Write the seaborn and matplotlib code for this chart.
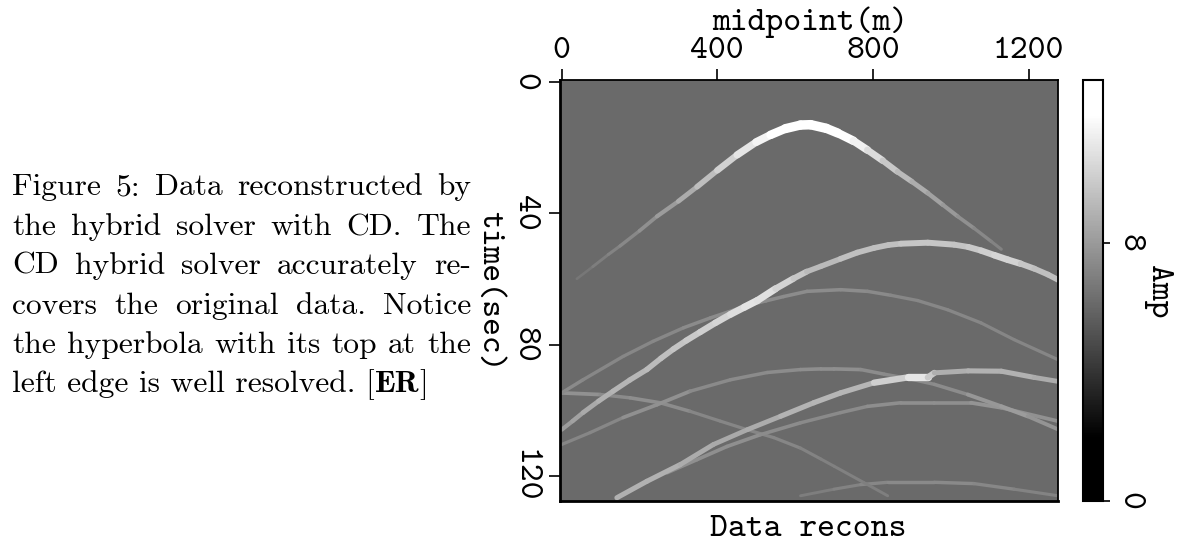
import numpy as np
import pandas as pd
import matplotlib
matplotlib.use("Agg")
import matplotlib.pyplot as plt
import seaborn as sns
from matplotlib.colors import LinearSegmentedColormap

# arrival picks: midpoint (m), time (sec), amplitude
a_mid = [39, 80, 120, 150, 200, 245, 300, 348, 400, 451, 500, 537, 575, 614, 640, 680, 709, 750, 786, 825, 863, 900, 941, 980, 1018, 1060, 1104, 1130]
a_time = [60, 56.3, 52.6, 50, 45.4, 41, 36.4, 32, 27, 22.3, 18.4, 16.2, 14.3, 13.2, 13.1, 14.2, 15.6, 18, 20.8, 24, 27.4, 30.4, 33.9, 37.5, 41, 44.6, 48.6, 51]
a_amp = [6.5, 6.8, 7, 7.2, 7.5, 7.8, 8.4, 9, 9.8, 10.6, 11.3, 11.8, 12.5, 13, 13, 13, 12.5, 11.8, 11, 10.2, 9.5, 9, 8.5, 8.2, 7.8, 7.5, 7.2, 7]

b_mid = [0, 28, 55, 95, 132, 175, 219, 255, 287, 320, 356, 395, 434, 470, 503, 550, 596, 630, 666, 717, 760, 803, 840, 872, 941, 1009, 1045, 1078, 1112, 1147, 1180, 1215, 1250, 1276]
b_time = [105.9, 103.3, 100.7, 97.2, 94.2, 90.8, 87.6, 84.2, 81.4, 78.8, 76.2, 73.4, 70.8, 68.6, 66.6, 63, 59.9, 57.8, 56.2, 53.9, 52, 50.6, 49.7, 49.3, 49, 49.6, 50.3, 51.4, 52.8, 54.2, 55.4, 56.9, 58.7, 60.3]
b_amp = [8, 8.2, 8.5, 8.8, 9, 9.1, 9.2, 9.4, 9.5, 9.8, 10, 10.2, 10.5, 10.8, 11, 10.5, 10, 9.5, 9, 9.5, 9.5, 9.5, 9.5, 9.5, 10, 9.5, 9.8, 10, 10.2, 10.5, 10, 9.5, 9.5, 9.5]

c_mid = [0, 55, 158, 235, 313, 382, 430, 480, 525, 570, 631, 717, 786, 846, 915, 992, 1078, 1163, 1276]
c_time = [94.7, 90.7, 83.6, 79, 74.9, 71.9, 70, 68, 66.7, 65.4, 63.8, 63.3, 63.8, 65, 66.6, 69.4, 73.4, 78.5, 84.6]
c_amp = [7.5, 7.3, 7.3, 7.3, 7.4, 7.5, 7.5, 7.5, 7.5, 7.5, 7.5, 7.5, 7.5, 7.3, 7.3, 7.3, 7.2, 7.2, 7.2]

d_mid = [0, 73, 158, 245, 330, 434, 528, 614, 666, 700, 769, 829, 890, 958, 1044, 1130, 1198, 1276]
d_time = [110.4, 106.8, 102.2, 98.3, 94.2, 90.7, 88.5, 87.6, 87.4, 87.4, 87.6, 89, 90.3, 92.1, 95.2, 98.8, 101.8, 105.8]
d_amp = [7.2, 7.2, 7.3, 8, 7.4, 7.4, 7.5, 7.5, 7.6, 7.6, 7.6, 7.4, 7.4, 7.4, 7.6, 8.2, 8, 7.6]

e_mid = [142, 219, 305, 390, 477, 563, 648, 717, 803, 889, 941, 958, 1045, 1130, 1215, 1276]
e_time = [126.6, 121.6, 116.5, 110.4, 105.9, 101.8, 97.7, 94.7, 91.6, 90, 90, 88.6, 88, 88.1, 90, 91.2]
e_amp = [8.8, 9, 8.8, 8.6, 8.6, 8.8, 9.2, 9, 9.2, 11, 11, 8.8, 8.9, 9, 8.8, 8.6]

f_mid = [271, 348, 425, 511, 614, 717, 786, 872, 958, 1052, 1130, 1276]
f_time = [119, 115, 111, 107.4, 103.8, 100.7, 98.8, 97.7, 97.7, 97.7, 99.2, 103.3]
f_amp = [7.6, 7.6, 7.6, 7.6, 7.4, 7.4, 7.5, 7.6, 7.6, 7.6, 8, 7.4]

g_mid = [0, 99, 176, 253, 330, 408, 477, 545, 614, 666, 700, 777, 838]
g_time = [94.7, 95.2, 96.2, 97.7, 100.3, 103.3, 105.9, 108.3, 111.5, 114.8, 117, 122, 126]
g_amp = [7.8, 7.6, 7.3, 7.8, 7.2, 7.2, 7.2, 7.2, 7.2, 7, 7, 7, 6.9]

h_mid = [614, 700, 769, 838, 958, 1060, 1163, 1276]
h_time = [126, 124, 122.6, 121.9, 121.9, 122.3, 124, 126]
h_amp = [6.8, 7, 7.2, 7.4, 7.4, 7.4, 7.2, 7]

background_amp = 6.15
n_mid = 128
n_time = 128

mid_ticks = [0, 400, 800, 1200]
time_ticks = [0, 40, 80, 120]
amp_ticks = [0, 8]
amp_max = 13.07

caption = [
    "Figure 5:  Data reconstructed by",
    "the hybrid solver with CD. The",
    "CD hybrid solver accurately re-",
    "covers the original data.  Notice",
    "the hyperbola with its top at the",
]

sns.set_theme(style="white")
plt.rcParams["axes.unicode_minus"] = False
MONO = "cmtt10"
LABEL_SIZE = 24.5
TEXT_SIZE = 22.7
fig = plt.figure(figsize=(11.82, 5.48), dpi=100)
W, H = 1182.0, 548.0


def box(x0, y0, x1, y1):
    return [x0 / W, 1 - y1 / H, (x1 - x0) / W, (y1 - y0) / H]


ax = fig.add_axes(box(559.7, 80, 1057.7, 500.7))
cax = fig.add_axes(box(1083, 80, 1103, 500.7))

# black up to about amp 2, white from about amp 12
cmap = LinearSegmentedColormap.from_list(
    "sep_gray", [(0, "black"), (1.96 / amp_max, "black"), (12.0 / amp_max, "white"), (1, "white")]
)

section = pd.DataFrame(np.full((n_time, n_mid), background_amp))
sns.heatmap(section, ax=ax, cbar_ax=cax, cmap=cmap, vmin=0, vmax=amp_max,
            xticklabels=False, yticklabels=False)

events = [
    (h_mid, h_time, h_amp),
    (g_mid, g_time, g_amp),
    (f_mid, f_time, f_amp),
    (d_mid, d_time, d_amp),
    (c_mid, c_time, c_amp),
    (e_mid, e_time, e_amp),
    (a_mid, a_time, a_amp),
    (b_mid, b_time, b_amp),
]

# each stretch between two picks is one short line, brighter means wider
for mids, times, amps in events:
    x = np.array(mids) / 10 + 0.5
    y = np.array(times) + 0.5
    for i in range(len(x) - 1):
        amp = (amps[i] + amps[i + 1]) / 2
        width = 1.5 + 0.78 * (amp - background_amp)
        sns.lineplot(x=x[i:i + 2], y=y[i:i + 2], ax=ax, color=cmap(amp / amp_max), linewidth=width,
                     estimator=None, sort=False, solid_capstyle="round")

ax.set_xlim(0, n_mid)
ax.set_ylim(n_time, 0)

ax.xaxis.tick_top()
ax.set_xticks([m / 10 + 0.5 for m in mid_ticks])
ax.set_xticklabels(mid_ticks, fontfamily=MONO, fontsize=LABEL_SIZE)
ax.set_yticks([t + 0.5 for t in time_ticks])
ax.set_yticklabels(time_ticks, fontfamily=MONO, fontsize=LABEL_SIZE, rotation=270, va="center")
ax.tick_params(axis="both", length=8, width=1.2, color="black", pad=2, left=True, top=True,
               bottom=False, labelcolor="black")
ax.tick_params(axis="y", pad=7)
for side, spine in ax.spines.items():
    spine.set_visible(True)
    spine.set_color("black")
    spine.set_linewidth(2.0 if side in ("left", "bottom") else 1.3)

colorbar = ax.collections[0].colorbar
colorbar.set_ticks(amp_ticks)
colorbar.set_ticklabels(amp_ticks, fontfamily=MONO, fontsize=LABEL_SIZE, rotation=270, va="center")
colorbar.ax.tick_params(length=5, width=1.2, color="black", pad=3, right=True, labelcolor="black")
colorbar.outline.set_visible(True)
colorbar.outline.set_edgecolor("black")
colorbar.outline.set_linewidth(1.5)

fig.text(810 / W, 1 - 22 / H, "midpoint(m)", fontfamily=MONO, fontsize=LABEL_SIZE, ha="center", va="center", color="black")
fig.text(808 / W, 1 - 529 / H, "Data recons", fontfamily=MONO, fontsize=LABEL_SIZE, ha="center", va="center", color="black")
fig.text(489 / W, 1 - 291 / H, "time(sec)", fontfamily=MONO, fontsize=LABEL_SIZE, rotation=270, ha="center", va="center", color="black")
fig.text(1157 / W, 1 - 292 / H, "Amp", fontfamily=MONO, fontsize=LABEL_SIZE, rotation=270, ha="center", va="center", color="black")

# caption: justified lines, so each word gets its own position
fig.canvas.draw()
renderer = fig.canvas.get_renderer()
left, right = 12.0, 471.0
baselines = [195, 235, 274, 314, 353]
for line, base in zip(caption, baselines):
    words = [w for w in line.split(" ") if w]
    items = [fig.text(0, 1 - base / H, w, fontfamily="cmr10", fontsize=TEXT_SIZE, color="black", va="baseline") for w in words]
    widths = [t.get_window_extent(renderer).width for t in items]
    gap = (right - left - sum(widths)) / (len(words) - 1)
    pos = left
    for t, w in zip(items, widths):
        t.set_x(pos / W)
        pos += w + gap

last = fig.text(12 / W, 1 - 392 / H, "left edge is well resolved. [", fontfamily="cmr10", fontsize=TEXT_SIZE, color="black", va="baseline")
pos = 12 + last.get_window_extent(renderer).width
er = fig.text(pos / W, 1 - 392 / H, "ER", fontfamily="cmb10", fontsize=TEXT_SIZE, color="black", va="baseline")
pos += er.get_window_extent(renderer).width
fig.text(pos / W, 1 - 392 / H, "]", fontfamily="cmr10", fontsize=TEXT_SIZE, color="black", va="baseline")

fig.savefig("out.png", dpi=100)
